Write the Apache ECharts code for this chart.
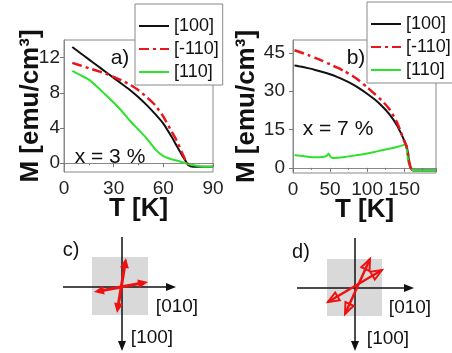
<!DOCTYPE html>
<html>
<head>
<meta charset="utf-8">
<script src="https://cdn.jsdelivr.net/npm/echarts@6/dist/echarts.min.js"></script>
<style>
  html, body { margin: 0; padding: 0; background: #fff; }
  #chart { width: 452px; height: 353px; }
</style>
</head>
<body>
<div id="chart"></div>
<script>
const FONT = 'Arial, "Liberation Sans", sans-serif'
const names = ['[100]', '[-110]', '[110]']
const colors = ['#111111', '#e8161c', '#2de22d']
const dashes = ['solid', [10, 4, 3, 4], 'solid']

// panel a) x = 3 %
const tA100 = [5, 10, 15, 20, 25, 30, 35, 40, 45, 50, 55, 60, 65, 68, 71, 73, 75, 78, 82, 86, 90]
const mA100 = [13.2, 12.5, 11.8, 11.1, 10.4, 9.7, 9.0, 8.3, 7.5, 6.6, 5.6, 4.5, 3.0, 2.0, 1.0, 0.4, -0.2, -0.4, -0.4, -0.4, -0.4]
const tA110m = [5, 10, 15, 20, 25, 30, 35, 40, 45, 50, 55, 60, 65, 68, 71, 73, 75]
const mA110m = [11.4, 11.1, 10.8, 10.5, 10.2, 9.8, 9.4, 8.9, 8.3, 7.5, 6.6, 5.3, 3.6, 2.6, 1.3, 0.5, -0.1]
const tA110 = [5, 10, 15, 20, 25, 30, 35, 40, 45, 50, 55, 60, 65, 70, 75, 80, 85, 90]
const mA110 = [10.5, 10.0, 9.5, 8.7, 7.8, 6.9, 5.9, 4.8, 3.8, 2.8, 1.6, 0.8, 0.45, 0.2, -0.1, -0.3, -0.4, -0.4]

// panel b) x = 7 %
const tB100 = [2, 10, 20, 30, 40, 50, 60, 70, 80, 90, 100, 110, 120, 130, 140, 145, 150, 153, 155, 157, 159, 162, 170, 180, 193]
const mB100 = [40, 39.6, 39.0, 38.3, 37.5, 36.6, 35.5, 34.2, 32.7, 31.0, 29.0, 26.8, 24.2, 21.0, 16.8, 14.0, 10.8, 8.8, 6, 2, 0, -1, -1, -1, -1]
const tB110m = [2, 10, 20, 30, 40, 50, 60, 70, 80, 90, 100, 110, 120, 130, 140, 145, 150, 153, 155, 157, 159, 162]
const mB110m = [46, 45.2, 44.2, 43.0, 41.8, 40.5, 39.2, 37.7, 36.0, 34.0, 31.5, 29.0, 26.3, 23.0, 18.0, 14.5, 10.5, 8.5, 6, 2, 0, -1]
const tB110 = [2, 10, 20, 30, 40, 45, 48, 50, 53, 60, 70, 80, 90, 100, 110, 120, 130, 140, 150, 152, 154, 156, 158, 160, 165, 180, 193]
const mB110 = [5, 4.7, 4.4, 4.2, 4.3, 4.6, 5.6, 4.6, 3.9, 4.0, 4.3, 4.7, 5.1, 5.6, 6.2, 6.9, 7.5, 8.2, 9.0, 9.5, 6, 2, 0.5, -0.6, -1, -1, -1]

const zip = (xs, ys) => xs.map((x, i) => [x, ys[i]])

const panels = [
  [zip(tA100, mA100), zip(tA110m, mA110m), zip(tA110, mA110)],
  [zip(tB100, mB100), zip(tB110m, mB110m), zip(tB110, mB110)]
]

const series = []
panels.forEach((p, gi) => {
  p.forEach((d, si) => {
    series.push({
      name: names[si],
      type: 'line',
      xAxisIndex: gi,
      yAxisIndex: gi,
      data: d,
      symbol: 'none',
      smooth: 0.2,
      z: si == 1 ? 4 : 3,
      lineStyle: { color: colors[si], width: si == 1 ? 2.5 : 2, type: dashes[si] },
      itemStyle: { color: colors[si] }
    })
  })
})

const axisBase = {
  axisLine: { show: true, lineStyle: { color: '#888', width: 1 } },
  axisTick: { show: true, length: 4, lineStyle: { color: '#777' } },
  splitLine: { show: false },
  axisLabel: { color: '#222', fontSize: 19, fontFamily: FONT },
  nameMoveOverlap: false,
  nameTextStyle: { color: '#111', fontSize: 26, fontWeight: 'bold', fontFamily: FONT }
}

function xAx(gi, max, interval) {
  return Object.assign({}, axisBase, {
    type: 'value', gridIndex: gi, min: 0, max: max, interval: interval,
    minorTick: { show: true, splitNumber: 2, length: 2, lineStyle: { color: '#777' } },
    axisLabel: Object.assign({}, axisBase.axisLabel, { margin: 7, showMaxLabel: max % interval == 0 }),
    name: 'T [K]', nameLocation: 'middle', nameGap: 24
  })
}

function yAx(gi, min, max, labels, margin, gap) {
  return Object.assign({}, axisBase, {
    type: 'value', gridIndex: gi, min: min, max: max,
    axisTick: Object.assign({}, axisBase.axisTick, { customValues: labels }),
    axisLabel: Object.assign({}, axisBase.axisLabel, { margin: margin, customValues: labels }),
    name: 'M [emu/cm³]', nameLocation: 'middle', nameGap: gap
  })
}

function legendAt(left, top) {
  return {
    left: left, top: top, orient: 'vertical', selectedMode: false,
    data: names,
    padding: [13, 4, 4, 3],
    itemWidth: 30, itemHeight: 14, itemGap: 5,
    backgroundColor: '#fff', borderColor: '#888', borderWidth: 1, borderRadius: 0,
    itemStyle: { color: 'rgba(0,0,0,0)', borderColor: 'rgba(0,0,0,0)', borderWidth: 0, opacity: 0 },
    textStyle: { fontSize: 18, color: '#111', fontFamily: FONT }
  }
}

// schematic helpers for panels c) and d)
function arrow(x1, y1, x2, y2, o) {
  const dx = x2 - x1, dy = y2 - y1
  const len = Math.sqrt(dx * dx + dy * dy)
  const ux = dx / len, uy = dy / len, nx = -uy, ny = ux
  const els = []
  const head = (tx, ty, sx) => {
    const bx = tx - sx * ux * o.hl, by = ty - sx * uy * o.hl
    return {
      type: 'polygon', z: o.z,
      shape: { points: [[tx, ty], [bx + nx * o.hw / 2, by + ny * o.hw / 2], [bx - nx * o.hw / 2, by - ny * o.hw / 2]] },
      style: o.open ? { fill: 'none', stroke: o.color, lineWidth: 2, lineJoin: 'miter' } : { fill: o.color }
    }
  }
  const cut = o.open ? 0 : o.hl * 0.6
  const s1 = o.both ? cut : 0
  els.push({
    type: 'line', z: o.z,
    shape: { x1: x1 + ux * s1, y1: y1 + uy * s1, x2: x2 - ux * cut, y2: y2 - uy * cut },
    style: { stroke: o.color, lineWidth: o.w }
  })
  els.push(head(x2, y2, 1))
  if (o.both) els.push(head(x1, y1, -1))
  return els
}

function label(x, y, text, size) {
  return {
    type: 'text', x: x, y: y, z: 20,
    style: { text: text, fontSize: size, fontFamily: FONT, fill: '#111', align: 'center', verticalAlign: 'middle' }
  }
}

const black = { color: '#111', w: 1.5, hl: 10, hw: 8, z: 5 }
const redC = { color: '#ee1111', w: 3, hl: 10, hw: 9, both: true, z: 8 }
const redD = { color: '#ee1111', w: 2.5, hl: 11, hw: 9, both: true, open: true, z: 8 }

const graphic = [].concat(
  [label(120, 58, 'a)', 21), label(356, 58, 'b)', 21),
   label(110, 157, 'x = 3 %', 21), label(338, 129, 'x = 7 %', 21),
   label(71, 250, 'c)', 20), label(301, 252, 'd)', 20),
   label(177, 307, '[010]', 19), label(152, 338, '[100]', 19),
   label(410, 308, '[010]', 19), label(388, 339, '[100]', 19)],
  [{ type: 'rect', z: 1, shape: { x: 92, y: 257, width: 56, height: 58 }, style: { fill: '#d9d9d9' } },
   { type: 'rect', z: 1, shape: { x: 327, y: 259, width: 55, height: 57 }, style: { fill: '#d9d9d9' } }],
  arrow(63, 287, 176, 287, black), arrow(122, 237, 122, 351, black),
  arrow(297, 288, 414, 288, black), arrow(355, 238, 355, 351, black),
  arrow(94, 292, 148, 282, redC), arrow(117, 313, 126, 258, redC),
  arrow(345, 314, 370, 259, redD), arrow(328, 302, 382, 270, redD)
)

const chart = echarts.init(document.getElementById('chart'))
chart.setOption({
  backgroundColor: '#fff',
  animation: false,
  textStyle: { fontFamily: FONT },
  grid: [
    { left: 64, right: 239, top: 40, bottom: 181, show: true, borderColor: '#888', borderWidth: 1, backgroundColor: 'transparent' },
    { left: 293, right: 16, top: 40, bottom: 180, show: true, borderColor: '#888', borderWidth: 1, backgroundColor: 'transparent' }
  ],
  xAxis: [xAx(0, 90, 30), xAx(1, 193, 50)],
  yAxis: [yAx(0, -1, 14, [0, 4, 8, 12], 4, 20), yAx(1, -2, 50, [0, 15, 30, 45], 8, 33)],
  legend: [legendAt(135, 4), legendAt(367, 2)],
  series: series,
  graphic: graphic
})
</script>
</body>
</html>
